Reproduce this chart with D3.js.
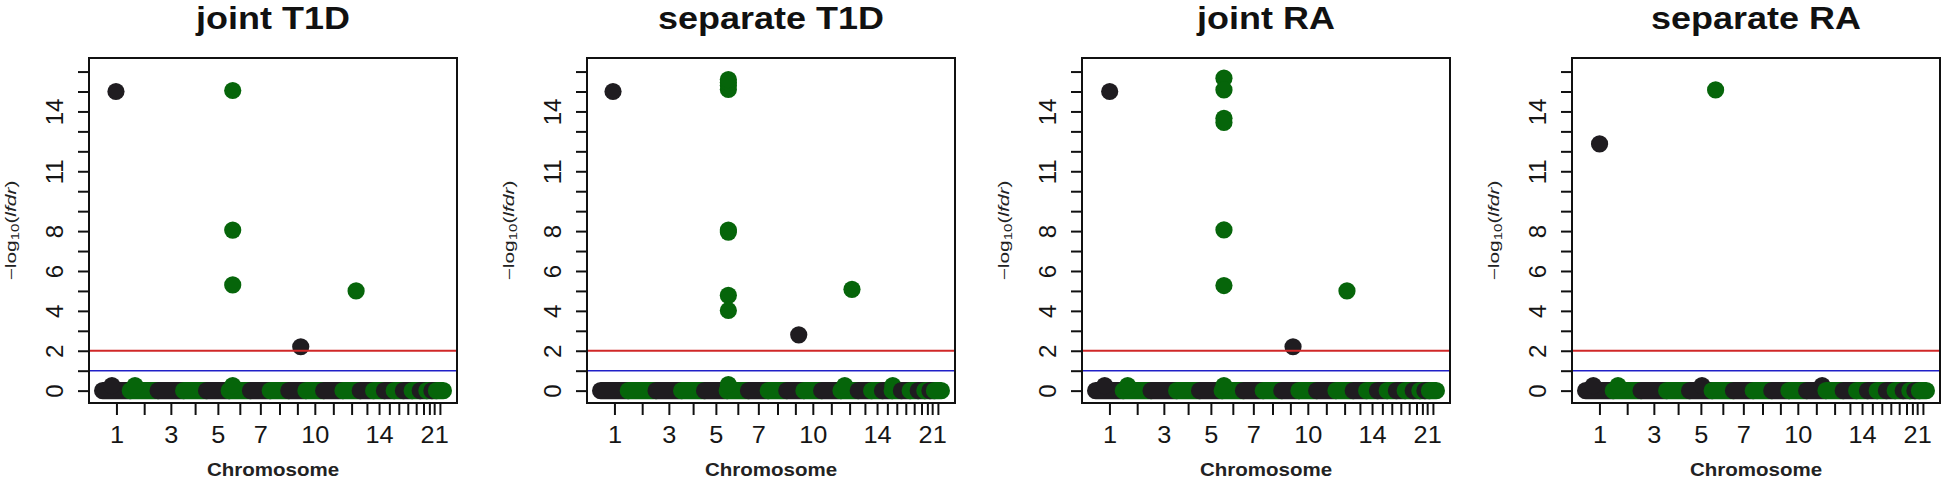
<!DOCTYPE html>
<html><head><meta charset="utf-8">
<script src="https://cdn.jsdelivr.net/npm/d3@7"></script>
<style>body{margin:0;background:#fff} svg{display:block}</style>
</head><body><svg id="c" width="1943" height="479"></svg>
<script>
// ---------------- data ----------------
const chromosomes = [1,2,3,4,5,6,7,8,9,10,11,12,13,14,15,16,17,18,19,20,21,22];
// cumulative genome position of chromosome boundaries (Mb-like units)
const chrBounds = [0,234,469,685,879,1070,1250,1417,1574,1719,1869,2032,2178,2291,2383,2465,2543,2617,2685,2741,2784,2822,2881];
const xTickLabels = [1,3,5,7,10,14,21];
const yTicks = [0,1,2,3,4,5,6,7,8,9,10,11,12,13,14,15,16];
const yTickLabels = [0,2,4,6,8,11,14];
const panelTitles = ["joint T1D","separate T1D","joint RA","separate RA"];
const thresholdRed = 2;
const thresholdBlue = 1;

// [cumulative position, -log10(lfdr)] of SNPs above the baseline
const jointT1D = [[79,0.25],[113,15.0],[274,0.25],[1675,2.2],[1100,15.05],[1100,8.05],[1100,5.3],[1100,0.25],[2143,5.0]];
const separateT1D = [[105,15.0],[1080,15.1],[1080,15.3],[1080,15.45],[1080,15.6],[1080,8.05],[1080,7.95],[1080,4.78],[1080,4.02],[1080,0.3],[1675,2.8],[2064,0.25],[2125,5.08],[2470,0.25]];
const jointRA = [[77,0.25],[119,15.0],[271,0.25],[1085,15.67],[1085,15.08],[1085,13.66],[1085,13.45],[1085,8.06],[1085,5.27],[1085,0.25],[1669,2.2],[2125,5.0]];
const separateRA = [[65,0.25],[118,12.37],[274,0.25],[984,0.25],[1099,15.08],[2000,0.25]];
const panelData = [jointT1D, separateT1D, jointRA, separateRA];

// ---------------- layout ----------------
const panelLefts = [89, 587, 1082, 1572];
const W = 368, plotTop = 58, plotBottom = 403;
const colEven = "#06650a", colOdd = "#1f1c20";
const R = 8.6;
const font = "'Liberation Sans', Arial, Helvetica, sans-serif";

const svg = d3.select("#c");
const y = d3.scaleLinear().domain([-0.62, 16.68]).range([plotBottom, plotTop]);
const chrOf = p => { for (let i = 0; i < chromosomes.length; i++) if (p < chrBounds[i+1]) return i; return chromosomes.length-1; };
const colorOf = i => (chromosomes[i] % 2 === 0 ? colEven : colOdd);
const mids = chromosomes.map((c,i) => (chrBounds[i]+chrBounds[i+1])/2);

panelData.forEach((data, pi) => {
  const left = panelLefts[pi];
  const x = d3.scaleLinear().domain([-115, 2996]).range([left, left+W]);
  const g = svg.append("g");

  chromosomes.forEach((c, i) => {
    const col = colorOf(i);
    g.append("line")
      .attr("x1", x(chrBounds[i])).attr("x2", x(chrBounds[i+1]))
      .attr("y1", y(0)).attr("y2", y(0))
      .attr("stroke", col).attr("stroke-width", 2*R).attr("stroke-linecap", "round");
    g.selectAll(null).data(data.filter(d => chrOf(d[0]) === i)).enter().append("circle")
      .attr("cx", d => x(d[0])).attr("cy", d => y(d[1])).attr("r", R)
      .attr("fill", col);
  });

  g.append("line").attr("x1", left).attr("x2", left+W)
    .attr("y1", y(thresholdRed)).attr("y2", y(thresholdRed))
    .attr("stroke", "#d02828").attr("stroke-width", 2);
  g.append("line").attr("x1", left).attr("x2", left+W)
    .attr("y1", y(thresholdBlue)).attr("y2", y(thresholdBlue))
    .attr("stroke", "#2020c8").attr("stroke-width", 1.6);

  g.append("rect").attr("x", left).attr("y", plotTop).attr("width", W).attr("height", plotBottom-plotTop)
    .attr("fill", "none").attr("stroke", "#111").attr("stroke-width", 2);

  const ya = g.append("g").attr("transform", `translate(${left},0)`)
    .call(d3.axisLeft(y).tickValues(yTicks).tickSize(11).tickSizeOuter(0)
      .tickFormat(d => yTickLabels.includes(d) ? d : ""));
  ya.select(".domain").remove();
  ya.selectAll("line").attr("stroke", "#111").attr("stroke-width", 2);
  ya.selectAll("text").attr("x", null).attr("dy", null)
    .attr("transform", "translate(-26,0) rotate(-90)")
    .attr("text-anchor", "middle")
    .style("font-family", font).style("font-size", "24px").attr("fill", "#151515");

  const xa = g.append("g").attr("transform", `translate(0,${plotBottom})`)
    .call(d3.axisBottom(x).tickValues(mids).tickSize(12).tickSizeOuter(0)
      .tickFormat((d,i) => xTickLabels.includes(chromosomes[i]) ? chromosomes[i] : ""));
  xa.select(".domain").remove();
  xa.selectAll("line").attr("stroke", "#111").attr("stroke-width", 2);
  xa.selectAll("text").attr("y", null).attr("dy", null)
    .attr("transform", "translate(0,40) scale(1.1,1)")
    .attr("text-anchor", "middle")
    .style("font-family", font).style("font-size", "23px").attr("fill", "#151515");

  const cx = left + W/2;
  g.append("text").attr("transform", `translate(${cx},29) scale(1.16,1)`)
    .attr("text-anchor", "middle").style("font-family", font)
    .style("font-size", "31px").style("font-weight", "bold").attr("fill", "#111")
    .text(panelTitles[pi]);

  g.append("text").attr("transform", `translate(${cx},476) scale(1.14,1)`)
    .attr("text-anchor", "middle").style("font-family", font)
    .style("font-size", "18px").style("font-weight", "bold").attr("fill", "#222")
    .text("Chromosome");

  const yl = g.append("text").attr("text-anchor", "middle")
    .style("font-family", font).style("font-size", "14px").attr("fill", "#222");
  yl.append("tspan").text("\u2212log");
  yl.append("tspan").attr("dy", 3).style("font-size", "10px").text("10");
  yl.append("tspan").attr("dy", -3).text("(");
  yl.append("tspan").style("font-style", "italic").text("lfdr");
  yl.append("tspan").text(")");
  const len = yl.node().getComputedTextLength();
  const s = 100 / len;
  yl.attr("transform", `translate(${left-73},${(plotTop+plotBottom)/2}) rotate(-90) scale(${s},1)`);
});
</script></body></html>
